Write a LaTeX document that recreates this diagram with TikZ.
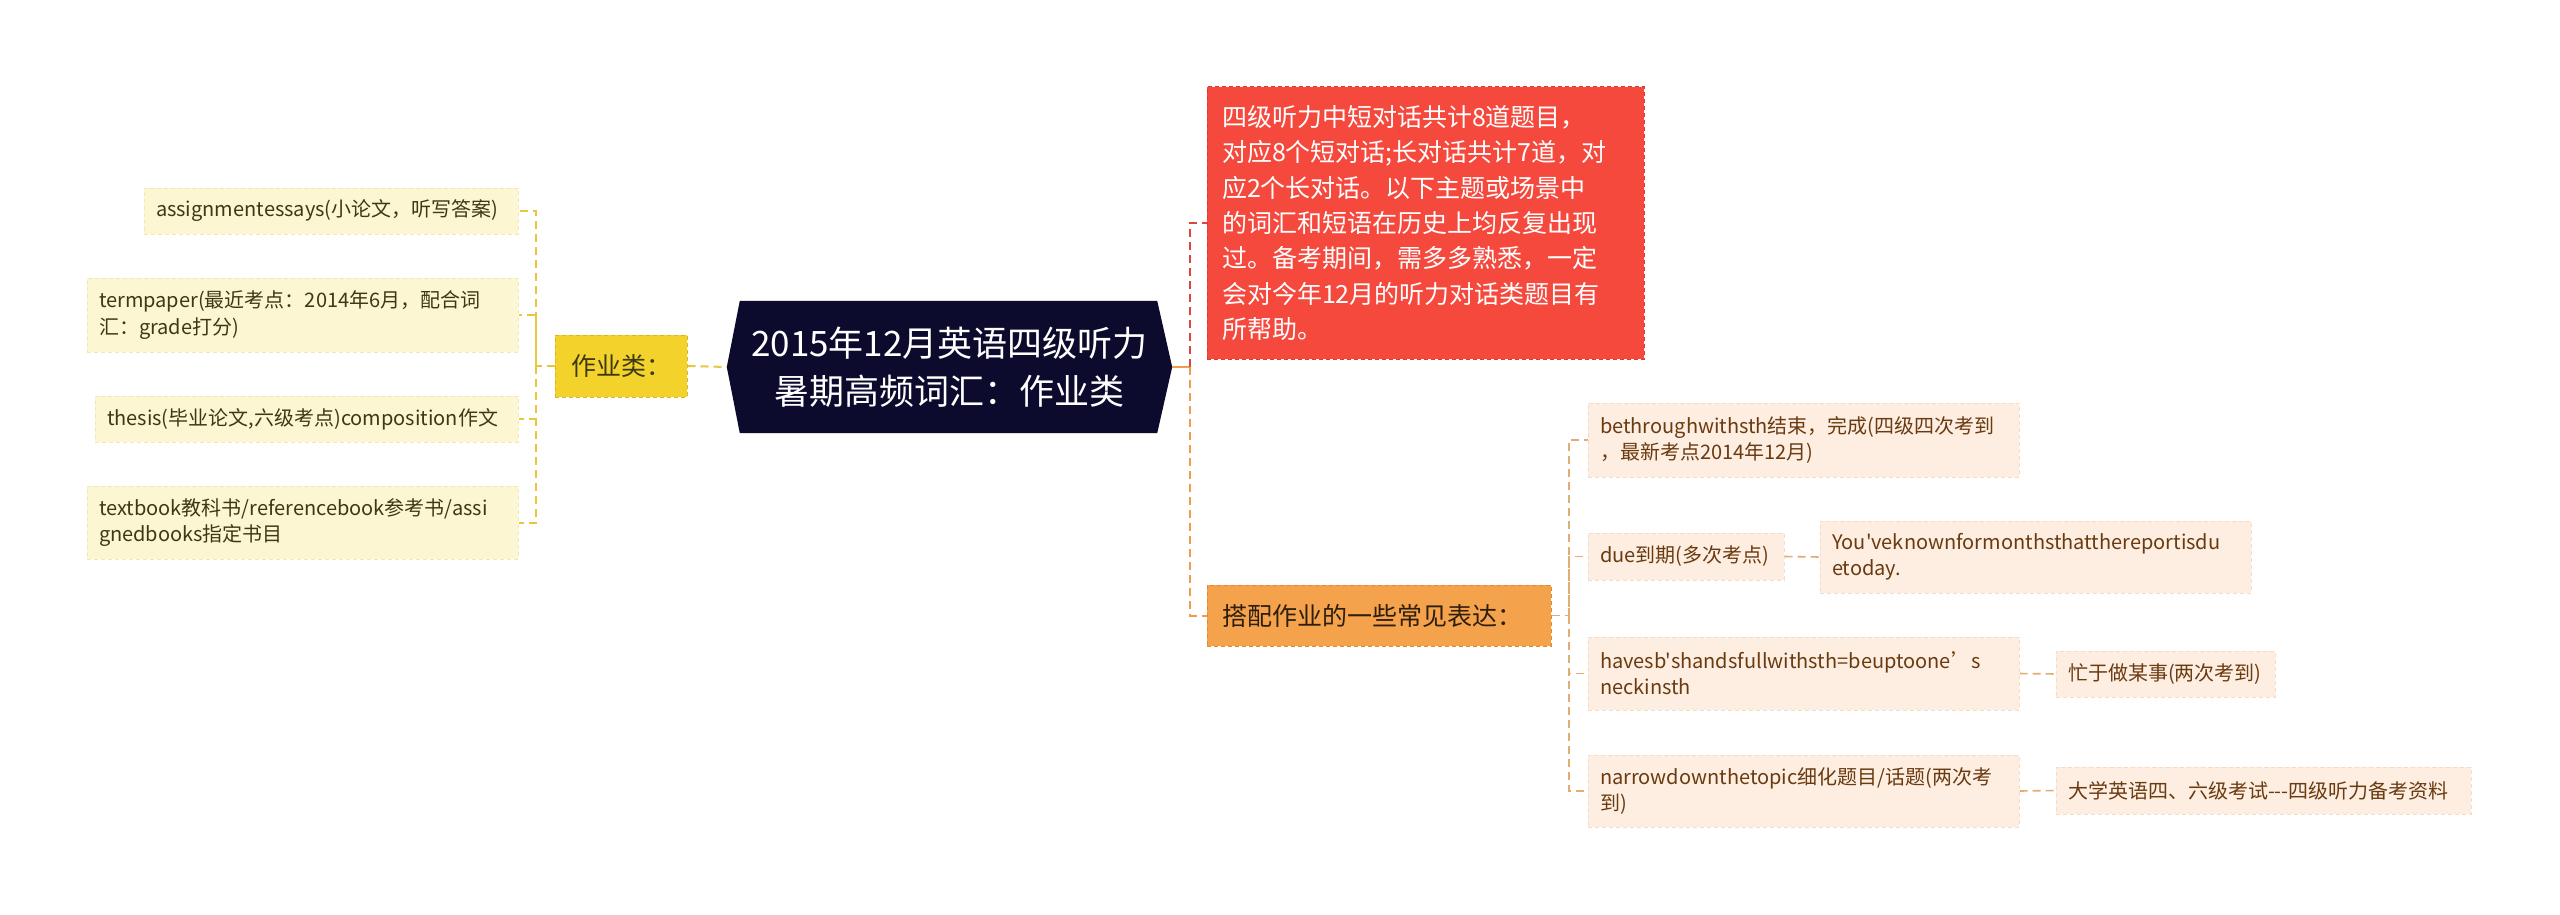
\documentclass[tikz,border=0pt]{standalone}
\usepackage{fontspec}
\newfontfamily\cjk{Noto Sans CJK SC}
\usetikzlibrary{backgrounds}
\definecolor{navy}{HTML}{0C0B2D}
\definecolor{yfill}{HTML}{F2D22B}
\definecolor{ydraw}{HTML}{DDB81A}
\definecolor{yline}{HTML}{EAC63E}
\definecolor{lfill}{HTML}{FDF6D3}
\definecolor{ldraw}{HTML}{F3E7B2}
\definecolor{ltext}{HTML}{3E3914}
\definecolor{rfill}{HTML}{F5493E}
\definecolor{rdraw}{HTML}{DF3A30}
\definecolor{rline}{HTML}{E0443A}
\definecolor{ofill}{HTML}{F5A24D}
\definecolor{odraw}{HTML}{E38A2E}
\definecolor{oline}{HTML}{EE9D4E}
\definecolor{otext}{HTML}{2E1F0C}
\definecolor{pfill}{HTML}{FDEEE1}
\definecolor{pdraw}{HTML}{F4DCC6}
\definecolor{ptext}{HTML}{6A3A10}
\definecolor{pline}{HTML}{E2AC72}
\begin{document}
\begin{tikzpicture}[x=1pt,y=-1pt,
  base/.style={rectangle, inner xsep=12pt, inner ysep=0pt, align=left, line width=1pt, dash pattern=on 4pt off 3pt},
  lleaf/.style={base, fill=lfill, draw=ldraw, text=ltext, font=\cjk\fontsize{20}{26.7}\selectfont},
  rleaf/.style={base, fill=pfill, draw=pdraw, text=ptext, font=\cjk\fontsize{20}{25.7}\selectfont},
  ybox/.style={base, align=center, fill=yfill, draw=ydraw, text=ltext, font=\cjk\fontsize{25}{30}\selectfont},
  redbox/.style={base, inner xsep=15pt, fill=rfill, draw=rdraw, text=white, font=\cjk\fontsize{25}{35.4}\selectfont},
  obox/.style={base, inner xsep=15pt, fill=ofill, draw=odraw, text=otext, font=\cjk\fontsize{25}{30}\selectfont},
  link/.style={line width=2pt, dash pattern=on 8pt off 5pt},
  ylink/.style={link, draw=yline},
  rlink/.style={link, draw=rline},
  olink/.style={link, draw=oline},
  plink/.style={link, draw=pline, line width=1.6pt}
]
\useasboundingbox (0,0) rectangle (2560,915);

% central node
\node[rectangle, minimum width=445pt, minimum height=132pt, inner sep=0pt, align=center, text=white,
  font=\cjk\fontsize{35}{48}\selectfont] (center) at (949.5,367) {2015年12月英语四级听力\\暑期高频词汇：作业类};
\begin{pgfonlayer}{background}
\fill[white] (0,0) rectangle (2560,915);
\fill[navy] (center.west) -- ([xshift=13pt]center.north west) -- ([xshift=-15pt]center.north east)
  -- (center.east) -- ([xshift=-15pt]center.south east) -- ([xshift=13pt]center.south west) -- cycle;
\end{pgfonlayer}

% left branch
\node[ybox, minimum width=132pt, minimum height=62pt, inner xsep=0pt] (yel) at (621,366) {作业类：};
\node[lleaf, text width=350pt, minimum height=46pt] (l1) at (331,211) {assignmentessays(小论文，听写答案)};
\node[lleaf, text width=407pt, minimum height=74pt] (l2) at (302.5,315) {termpaper(最近考点：2014年6月，配合词\\汇：grade打分)};
\node[lleaf, text width=399pt, minimum height=46pt] (l3) at (306.5,419) {thesis(毕业论文,六级考点)composition作文};
\node[lleaf, text width=407pt, minimum height=73pt] (l4) at (302.5,522.5) {textbook教科书/referencebook参考书/assi\\gnedbooks指定书目};

\coordinate (lj) at (536,366);
\draw[ylink] (yel.east) -- (center.west);
\draw[ylink] (yel.west) -- (lj) |- (l1.east);
\draw[ylink] (lj) |- (l2.east);
\draw[ylink] (lj) |- (l3.east);
\draw[ylink] (lj) |- (l4.east);

% right branch
\node[redbox, text width=407pt, minimum height=272pt] (red) at (1425.5,223) {四级听力中短对话共计8道题目，\\对应8个短对话;长对话共计7道，对\\应2个长对话。以下主题或场景中\\的词汇和短语在历史上均反复出现\\过。备考期间，需多多熟悉，一定\\会对今年12月的听力对话类题目有\\所帮助。};
\node[obox, text width=314pt, minimum height=61pt] (ora) at (1379,615.5) {搭配作业的一些常见表达：};

\coordinate (rj) at (1190,367);
\draw[oline, line width=2pt] (center.east) -- (rj);
\draw[rlink] (rj) |- (red.west);
\draw[olink] (rj) |- (ora.west);

\node[rleaf, text width=407pt, minimum height=74pt] (a) at (1803.5,440) {bethroughwithsth结束，完成(四级四次考到\\，最新考点2014年12月)};
\node[rleaf, text width=172pt, minimum height=47pt] (b) at (1686,556.5) {due到期(多次考点)};
\node[rleaf, text width=407pt, minimum height=72pt] (c) at (2035.5,557) {You'veknownformonthsthatthereportisdu\\etoday.};
\node[rleaf, text width=407pt, minimum height=73pt] (d) at (1803.5,673.5) {havesb'shandsfullwithsth=beuptoone’s\\neckinsth};
\node[rleaf, text width=195pt, minimum height=46pt] (e) at (2165.5,674) {忙于做某事(两次考到)};
\node[rleaf, text width=407pt, minimum height=72pt] (f) at (1803.5,791) {narrowdownthetopic细化题目/话题(两次考\\到)};
\node[rleaf, text width=391pt, minimum height=47pt] (g) at (2263.5,790.5) {大学英语四、六级考试---四级听力备考资料};

\coordinate (pj) at (1569,615.5);
\draw[plink] (ora.east) -- (pj) |- (a.west);
\draw[plink] (pj) |- (b.west);
\draw[plink] (pj) |- (d.west);
\draw[plink] (pj) |- (f.west);
\draw[plink] (b.east) -- (c.west);
\draw[plink] (d.east) -- (e.west);
\draw[plink] (f.east) -- (g.west);
\end{tikzpicture}
\end{document}
